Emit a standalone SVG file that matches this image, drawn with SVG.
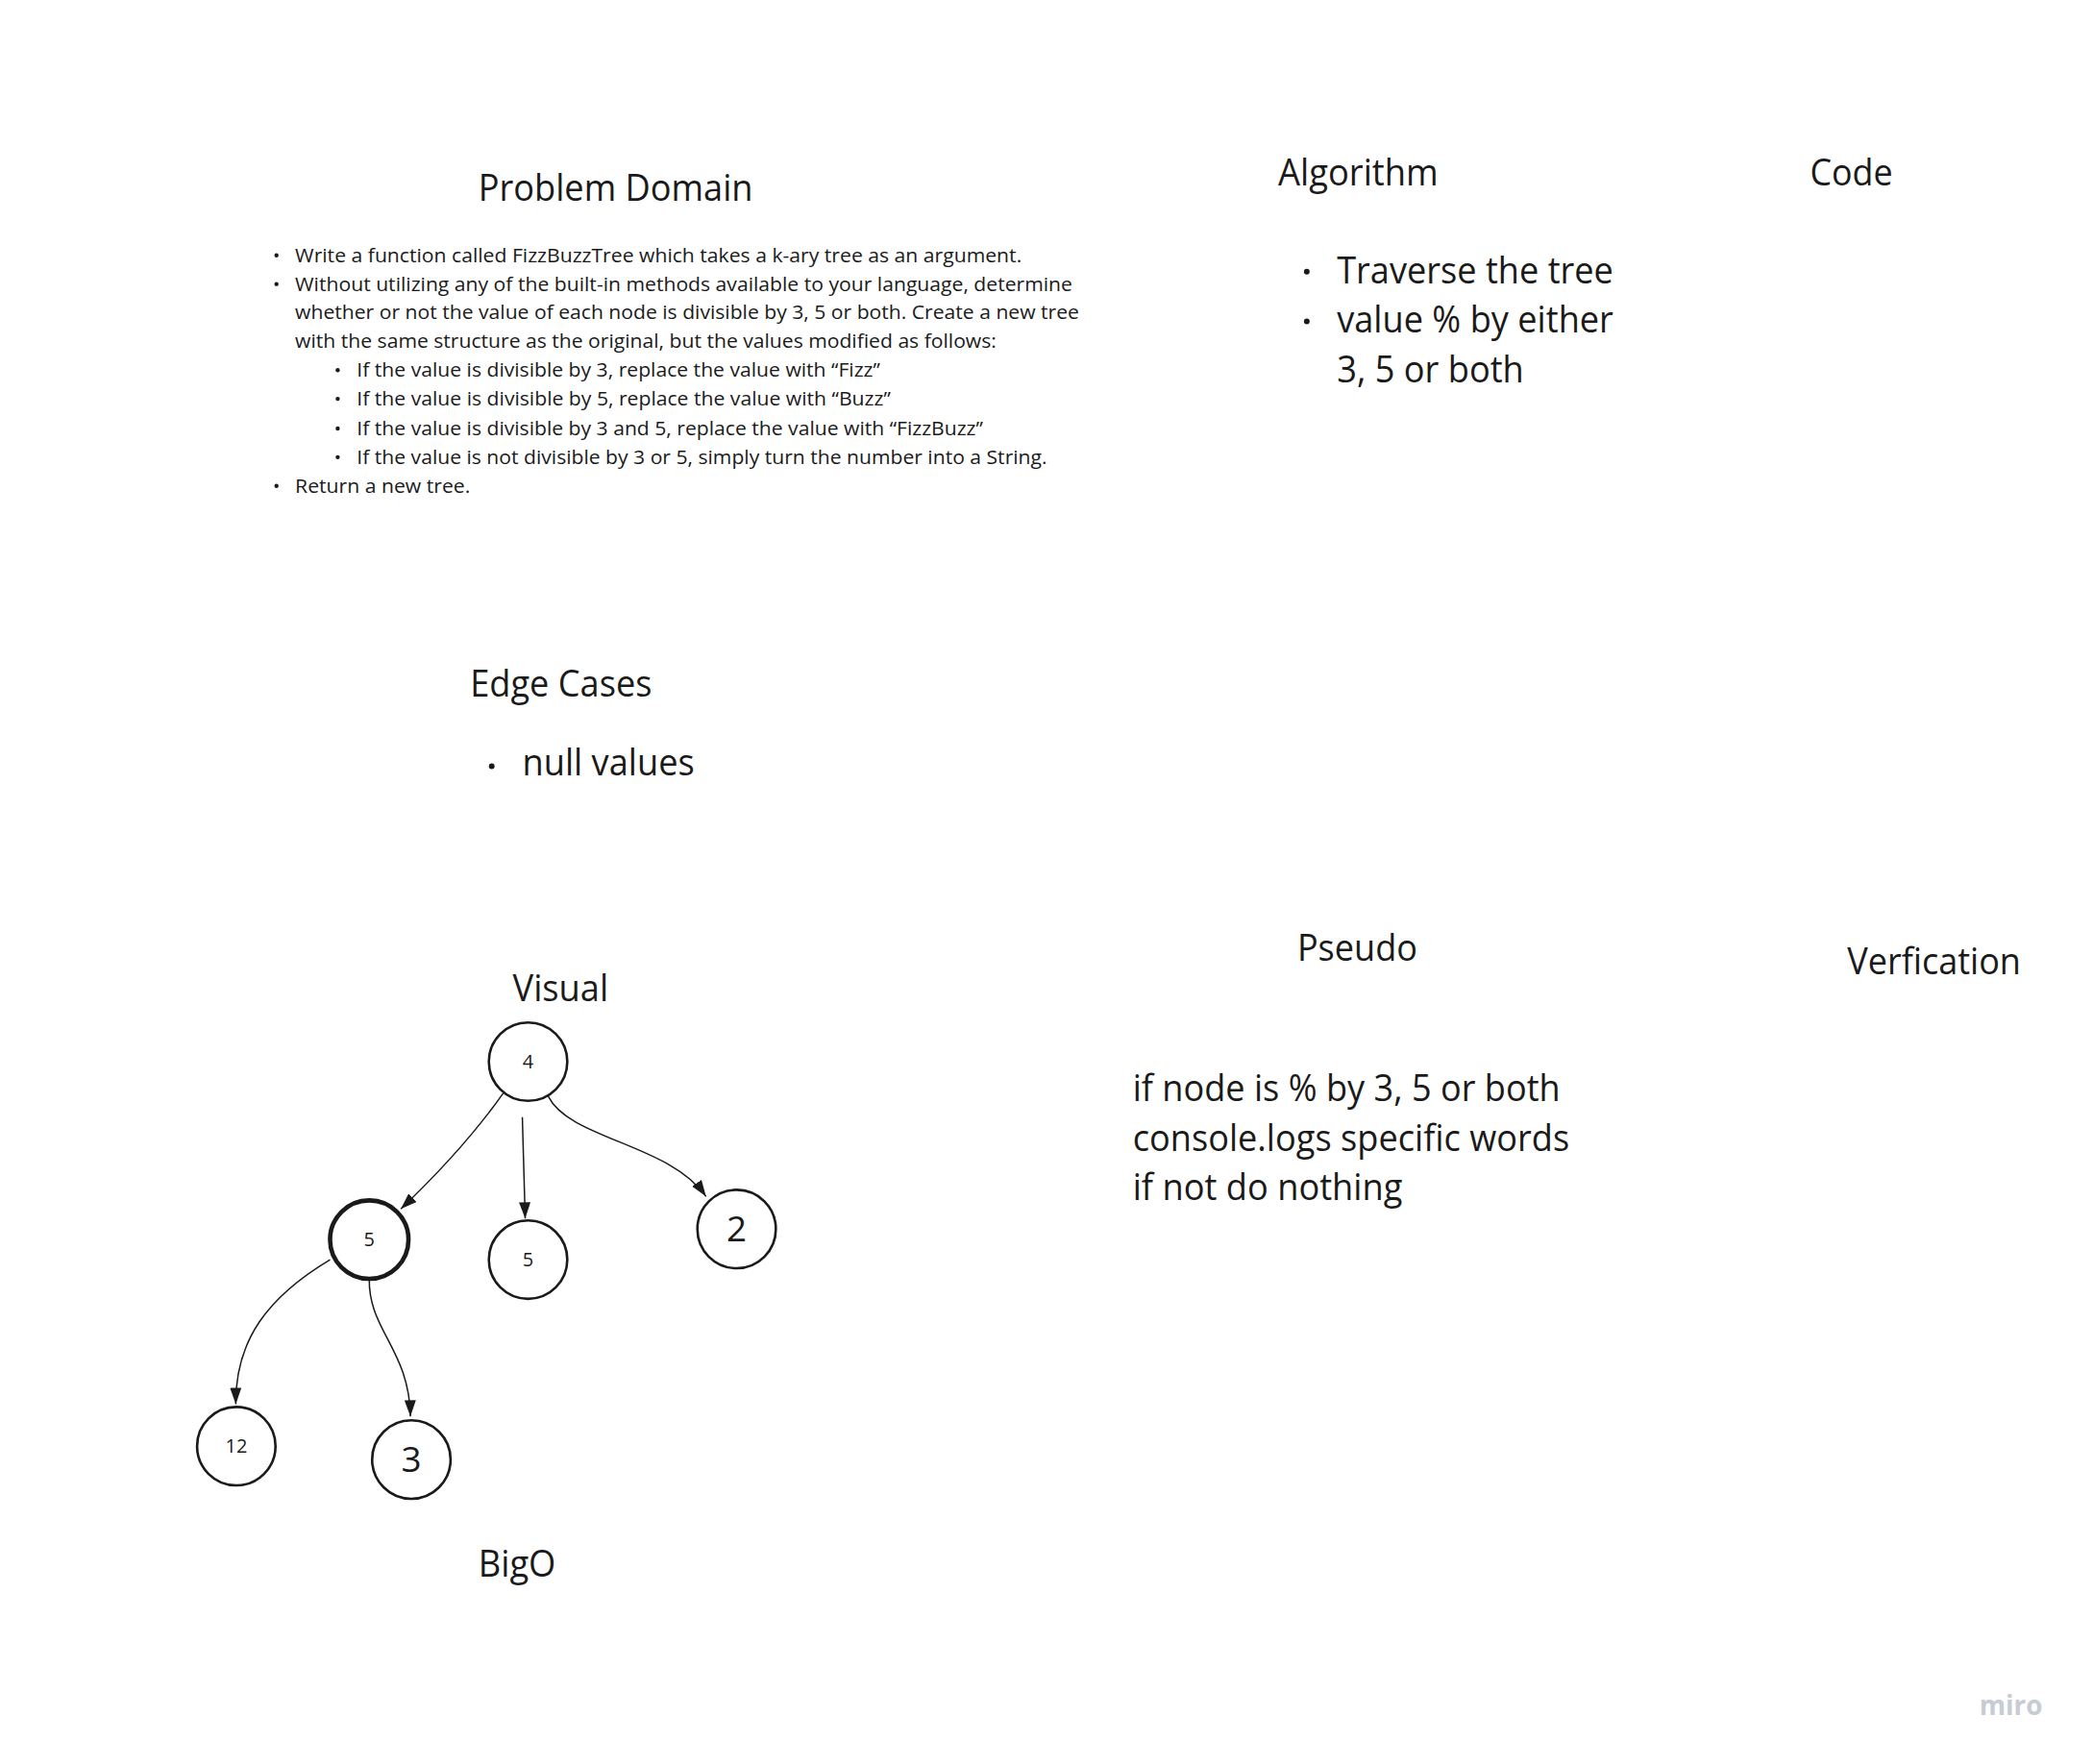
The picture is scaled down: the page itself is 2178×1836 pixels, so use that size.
<svg xmlns="http://www.w3.org/2000/svg" width="2178" height="1836" viewBox="0 0 2178 1836">
<style>
.t{font-family:"Open Sans","Noto Sans","Liberation Sans",sans-serif;fill:#1a1a1a}
.h{font-size:38px}
.s{font-size:20px}
.m{font-size:38px}
.n{fill:#ffffff;stroke:#1a1a1a;stroke-width:2.6}
.nb{fill:#ffffff;stroke:#1a1a1a;stroke-width:4.6}
.e{fill:none;stroke:#1a1a1a;stroke-width:1.5}
.miro{font-family:"Open Sans","Noto Sans",sans-serif;font-weight:700;font-size:28px;fill:#c8cbd4}
</style>
<defs>
<marker id="ah" markerUnits="userSpaceOnUse" markerWidth="20" markerHeight="14" refX="17" refY="6" orient="auto">
<path d="M0,0 L17,6 L0,12 z" fill="#1a1a1a"/>
</marker>
</defs>
<rect width="2178" height="1836" fill="#ffffff"/>
<g transform="scale(0.9955)">

<g id="problem-domain">
<text class="t h" x="500" y="210" textLength="287" lengthAdjust="spacingAndGlyphs">Problem Domain</text>
<g class="t s">
<circle cx="289" cy="267" r="2.2" fill="#1a1a1a"/>
<text x="308.5" y="274" textLength="759.5" lengthAdjust="spacingAndGlyphs">Write a function called FizzBuzzTree which takes a k-ary tree as an argument.</text>
<circle cx="289" cy="297" r="2.2" fill="#1a1a1a"/>
<text x="308.5" y="304" textLength="812.5" lengthAdjust="spacingAndGlyphs">Without utilizing any of the built-in methods available to your language, determine</text>
<text x="308.5" y="334" textLength="819.5" lengthAdjust="spacingAndGlyphs">whether or not the value of each node is divisible by 3, 5 or both. Create a new tree</text>
<text x="308.5" y="364" textLength="733" lengthAdjust="spacingAndGlyphs">with the same structure as the original, but the values modified as follows:</text>
<circle cx="353" cy="387" r="2.2" fill="#1a1a1a"/>
<text x="373" y="394" textLength="547" lengthAdjust="spacingAndGlyphs">If the value is divisible by 3, replace the value with “Fizz”</text>
<circle cx="353" cy="417" r="2.2" fill="#1a1a1a"/>
<text x="373" y="424" textLength="558" lengthAdjust="spacingAndGlyphs">If the value is divisible by 5, replace the value with “Buzz”</text>
<circle cx="353" cy="448" r="2.2" fill="#1a1a1a"/>
<text x="373" y="455" textLength="654.5" lengthAdjust="spacingAndGlyphs">If the value is divisible by 3 and 5, replace the value with “FizzBuzz”</text>
<circle cx="353" cy="478" r="2.2" fill="#1a1a1a"/>
<text x="373" y="485" textLength="721.5" lengthAdjust="spacingAndGlyphs">If the value is not divisible by 3 or 5, simply turn the number into a String.</text>
<circle cx="289" cy="508" r="2.2" fill="#1a1a1a"/>
<text x="308.5" y="515" textLength="183" lengthAdjust="spacingAndGlyphs">Return a new tree.</text>
</g>
</g>

<g id="algorithm">
<text class="t h" x="1336" y="194" textLength="167.5" lengthAdjust="spacingAndGlyphs">Algorithm</text>
<circle cx="1366" cy="284" r="3" fill="#1a1a1a"/>
<text class="t m" x="1397.5" y="296" textLength="289" lengthAdjust="spacingAndGlyphs">Traverse the tree</text>
<circle cx="1366" cy="336" r="3" fill="#1a1a1a"/>
<text class="t m" x="1397.5" y="348" textLength="289" lengthAdjust="spacingAndGlyphs">value % by either</text>
<text class="t m" x="1397.5" y="400" textLength="195.5" lengthAdjust="spacingAndGlyphs">3, 5 or both</text>
</g>

<g id="code">
<text class="t h" x="1892" y="194" textLength="86.5" lengthAdjust="spacingAndGlyphs">Code</text>
</g>

<g id="edge-cases">
<text class="t h" x="491.5" y="728" textLength="190" lengthAdjust="spacingAndGlyphs">Edge Cases</text>
<circle cx="514" cy="801" r="3" fill="#1a1a1a"/>
<text class="t m" x="546" y="811" textLength="180" lengthAdjust="spacingAndGlyphs">null values</text>
</g>

<g id="visual">
<text class="t h" x="536" y="1047" textLength="100" lengthAdjust="spacingAndGlyphs">Visual</text>
</g>

<g id="pseudo">
<text class="t h" x="1356" y="1005" textLength="125.6" lengthAdjust="spacingAndGlyphs">Pseudo</text>
<text class="t m" x="1184" y="1151" textLength="447" lengthAdjust="spacingAndGlyphs">if node is % by 3, 5 or both</text>
<text class="t m" x="1184" y="1203" textLength="456.5" lengthAdjust="spacingAndGlyphs">console.logs specific words</text>
<text class="t m" x="1184" y="1255" textLength="282" lengthAdjust="spacingAndGlyphs">if not do nothing</text>
</g>

<g id="verification">
<text class="t h" x="1931" y="1019" textLength="181.5" lengthAdjust="spacingAndGlyphs">Verfication</text>
</g>

<g id="bigo">
<text class="t h" x="500" y="1648" textLength="81" lengthAdjust="spacingAndGlyphs">BigO</text>
</g>

<g id="connectors">
<path class="e" d="M526,1143 Q485,1201 419,1264" marker-end="url(#ah)"/>
<path class="e" d="M546,1168 L549,1274" marker-end="url(#ah)"/>
<path class="e" d="M573,1146 C595,1191 700,1196 738,1251" marker-end="url(#ah)"/>
<path class="e" d="M345,1317 C280,1356 246,1401 246.5,1468" marker-end="url(#ah)"/>
<path class="e" d="M386,1337 C385,1391 428,1411 429,1481" marker-end="url(#ah)"/>
</g>

<g id="node-4">
<circle class="n" cx="552" cy="1110" r="41"/>
<text class="t" x="552" y="1117" font-size="20" text-anchor="middle">4</text>
</g>
<g id="node-5a">
<circle class="nb" cx="386" cy="1296" r="41"/>
<text class="t" x="386" y="1303" font-size="20" text-anchor="middle">5</text>
</g>
<g id="node-5b">
<circle class="n" cx="552" cy="1317" r="41"/>
<text class="t" x="552" y="1324" font-size="20" text-anchor="middle">5</text>
</g>
<g id="node-2">
<circle class="n" cx="770" cy="1285" r="41"/>
<text class="t" x="770" y="1298" font-size="37" text-anchor="middle">2</text>
</g>
<g id="node-12">
<circle class="n" cx="247" cy="1512" r="41"/>
<text class="t" x="247" y="1519" font-size="20" text-anchor="middle">12</text>
</g>
<g id="node-3">
<circle class="n" cx="430" cy="1526" r="41"/>
<text class="t" x="430" y="1539" font-size="37" text-anchor="middle">3</text>
</g>

<text class="miro" x="2069" y="1793">miro</text>
</g>
</svg>
